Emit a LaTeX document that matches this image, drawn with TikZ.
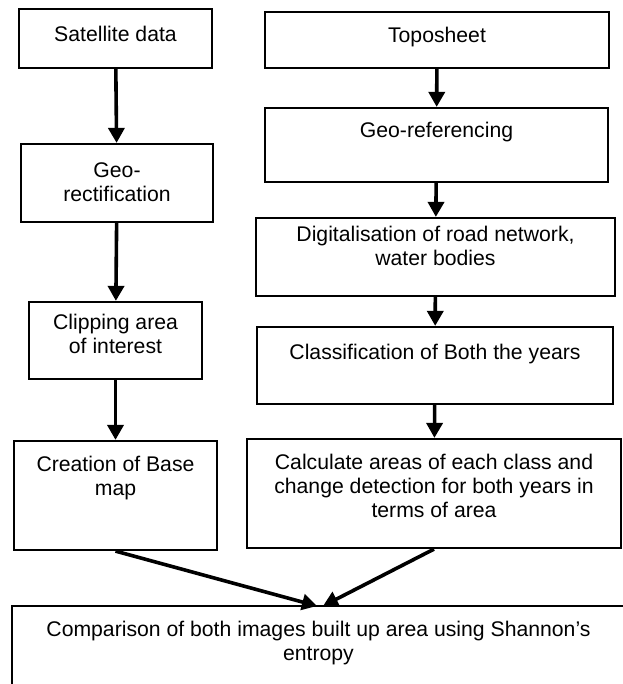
\documentclass[tikz,border=0pt]{standalone}
\usepackage{fontspec}
\setmainfont{Liberation Sans}
\usetikzlibrary{arrows.meta,positioning}

\tikzset{
  stepbox/.style={draw, line width=1.1pt, inner sep=0pt},
  boxsize/.style 2 args={minimum width=#1*0.5pt, minimum height=#2*0.5pt},
  steptext/.style={align=center, inner sep=0pt, font=\fontsize{10.6}{12}\selectfont},
  flow/.style={->, >={Triangle[length=7.5pt,width=8pt]}, line width=1.8pt},
}

\begin{document}
\begin{tikzpicture}[x=0.5pt,y=-0.5pt]
        \useasboundingbox (0,0) rectangle (622,684);

        % left column
        \node[stepbox, boxsize={193}{59}] (sat) at (115.5,38.5) {};
        \node[stepbox, boxsize={192}{78}] (georect) at (117,183) {};
        \node[stepbox, boxsize={173}{77}] (clip) at (115.5,340.5) {};
        \node[stepbox, boxsize={203}{109}] (base) at (115.5,495.5) {};

        \node[steptext, below=9pt] at (sat.north) {Satellite data};
        \node[steptext, below=9.5pt] at (georect.north) {Geo-\\rectification};
        \node[steptext, below=6.5pt] at (clip.north) {Clipping area\\of interest};
        \node[steptext, below=8pt] at (base.north) {Creation of Base\\map};

        % right column
        \node[stepbox, boxsize={344}{56}] (topo) at (437,40) {};
        \node[stepbox, boxsize={343}{74}] (georef) at (436.5,145) {};
        \node[stepbox, boxsize={359}{78}] (digit) at (435.5,257) {};
        \node[stepbox, boxsize={356}{77}] (classif) at (435,365.5) {};
        \node[stepbox, boxsize={374}{109}] (calc) at (434,493.5) {};

        \node[steptext, below=8pt] at (topo.north) {Toposheet};
        \node[steptext, below=7.5pt] at (georef.north) {Geo-referencing};
        \node[steptext, below=4.5pt] at (digit.north) {Digitalisation of road network,\\water bodies};
        \node[steptext, below=9pt] at (classif.north) {Classification of Both the years};
        \node[steptext, below=8pt] at (calc.north) {Calculate areas of each class and\\change detection for both years in\\terms of area};

        % bottom
        \node[stepbox, boxsize={613}{94}] (comp) at (318.5,653) {};
        \node[steptext, below=8pt] at (comp.north) {Comparison of both images built up area using Shannon's\\entropy};

        \draw[flow] (sat) -- (georect);
        \draw[flow] (georect) -- (clip);
        \draw[flow] (clip) -- (base);

        \draw[flow] (topo) -- (georef);
        \draw[flow] (georef) -- (digit);
        \draw[flow] (digit) -- (classif);
        \draw[flow] (classif) -- (calc);

        \coordinate (joinl) at (317,606);
        \coordinate (joinr) at (323,606);
        \draw[flow] (base.south) -- (joinl);
        \draw[flow] (calc.south) -- (joinr);

    \end{tikzpicture}
\end{document}
